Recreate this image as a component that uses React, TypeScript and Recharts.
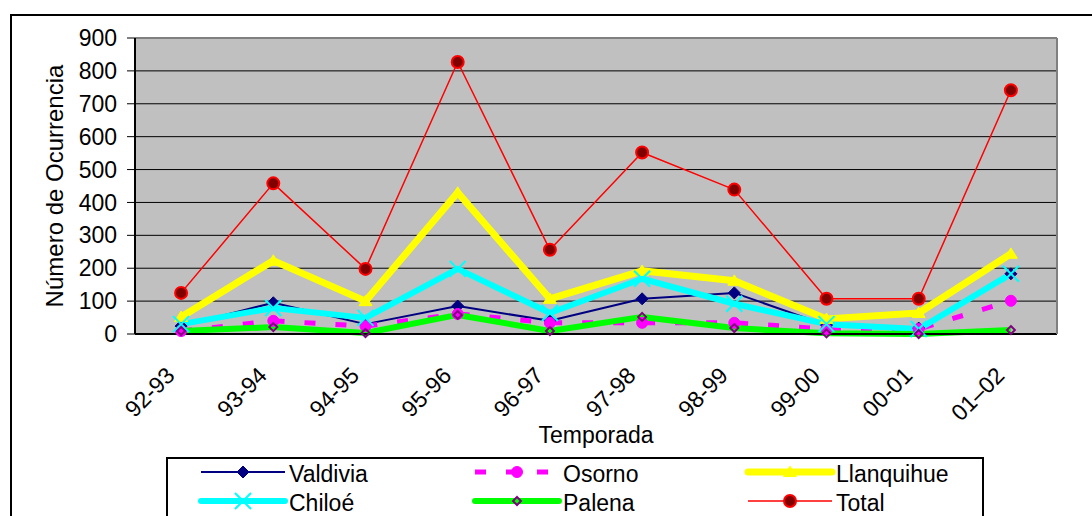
import { CartesianGrid, Legend, Line, LineChart, XAxis, YAxis } from "recharts";

// temporadas
const seasons = ["92-93", "93-94", "94-95", "95-96", "96-97", "97-98", "98-99", "99-00", "00-01", "01–02"];

// número de ocurrencias por provincia
const valdivia = [24, 95, 30, 85, 40, 107, 125, 27, 18, 183];
const osorno = [9, 40, 24, 61, 34, 34, 34, 15, 15, 101];
const llanquihue = [52, 223, 100, 430, 107, 192, 162, 46, 64, 244];
const chiloe = [30, 79, 49, 198, 64, 168, 92, 30, 15, 183];
const palena = [9, 21, 3, 58, 9, 52, 18, 2, 0, 12];
const total = [125, 458, 198, 827, 256, 552, 439, 107, 107, 741];

const yTicks = [0, 100, 200, 300, 400, 500, 600, 700, 800, 900];
const boundaryTicks = [0, 1, 2, 3, 4, 5, 6, 7, 8, 9, 10];

const data = seasons.map((season, i) => ({
  season,
  valdivia: valdivia[i],
  osorno: osorno[i],
  llanquihue: llanquihue[i],
  chiloe: chiloe[i],
  palena: palena[i],
  total: total[i],
}));

const FONT = "'Liberation Sans', Arial, sans-serif";

type SeriesStyle = {
  name: string;
  stroke: string;
  width: number;
  dash?: string;
  marker: "diamond" | "circle" | "triangle" | "x";
  mfill: string;
  mstroke: string;
  msw: number;
  size: number;
};

const STYLES: Record<string, SeriesStyle> = {
  valdivia: { name: "Valdivia", stroke: "#000080", width: 2, marker: "diamond", mfill: "#000080", mstroke: "#000080", msw: 1, size: 6 },
  osorno: { name: "Osorno", stroke: "#FF00FF", width: 5, dash: "11 20", marker: "circle", mfill: "#FF00FF", mstroke: "#FF00FF", msw: 1, size: 5.5 },
  llanquihue: { name: "Llanquihue", stroke: "#FFFF00", width: 7, marker: "triangle", mfill: "#FFFF00", mstroke: "#FFFF00", msw: 1, size: 6.5 },
  chiloe: { name: "Chiloé", stroke: "#00FFFF", width: 6, marker: "x", mfill: "none", mstroke: "#00FFFF", msw: 2, size: 8 },
  palena: { name: "Palena", stroke: "#00FF00", width: 6, marker: "diamond", mfill: "none", mstroke: "#800080", msw: 2, size: 4 },
  total: { name: "Total", stroke: "#FF0000", width: 1.5, marker: "circle", mfill: "#800000", mstroke: "#FF0000", msw: 2, size: 6 },
};

const seriesKeys = ["valdivia", "osorno", "llanquihue", "chiloe", "palena", "total"];

function marker(st: SeriesStyle, cx: number, cy: number, key?: string) {
  const s = st.size;
  switch (st.marker) {
    case "diamond":
      return (
        <path key={key} d={`M${cx} ${cy - s}L${cx + s} ${cy}L${cx} ${cy + s}L${cx - s} ${cy}Z`}
          fill={st.mfill} stroke={st.mstroke} strokeWidth={st.msw} />
      );
    case "circle":
      return <circle key={key} cx={cx} cy={cy} r={s} fill={st.mfill} stroke={st.mstroke} strokeWidth={st.msw} />;
    case "triangle":
      return (
        <path key={key} d={`M${cx} ${cy - s * 0.9}L${cx + s} ${cy + s * 0.7}L${cx - s} ${cy + s * 0.7}Z`}
          fill={st.mfill} stroke={st.mstroke} strokeWidth={st.msw} />
      );
    default:
      return (
        <path key={key} d={`M${cx - s} ${cy - s}L${cx + s} ${cy + s}M${cx - s} ${cy + s}L${cx + s} ${cy - s}`}
          fill="none" stroke={st.mstroke} strokeWidth={st.msw} />
      );
  }
}

const SeasonTick = (props: any) => {
  const { x, y, payload } = props;
  const bx = x - 5;
  const by = y + 43;
  return (
    <text x={bx} y={by} transform={`rotate(-45 ${bx} ${by})`} textAnchor="end"
      fontFamily={FONT} fontSize={23} fill="#000">
      {payload.value}
    </text>
  );
};

const LegendBox = (props: any) => {
  // keep the series order (Recharts sorts the payload by name)
  const items = [...(props.payload || [])].sort(
    (a: any, b: any) => seriesKeys.indexOf(a.dataKey) - seriesKeys.indexOf(b.dataKey)
  );
  const cols = [33, 307, 580];
  const rows = [13, 42];
  return (
    <div style={{ border: "2px solid #000", width: 814, height: 80, background: "#fff" }}>
      <svg width={814} height={80}>
        {items.map((item: any, i: number) => {
          const st = STYLES[item.dataKey];
          const x0 = cols[i % 3];
          const y = rows[Math.floor(i / 3)];
          return (
            <g key={item.dataKey}>
              <line x1={x0} x2={x0 + 84} y1={y} y2={y} stroke={st.stroke} strokeWidth={st.width}
                strokeDasharray={st.dash} strokeLinecap={st.width > 4 && !st.dash ? "round" : "butt"} />
              {marker(st, x0 + 42, y)}
              <text x={x0 + 88} y={y + 10} fontFamily={FONT} fontSize={23} fill="#000">
                {item.value}
              </text>
            </g>
          );
        })}
      </svg>
    </div>
  );
};

export default function App() {
  return (
    <div style={{ position: "relative", width: 1092, height: 516, overflow: "hidden", background: "#fff" }}>
      <style>{"body{margin:0}"}</style>
      <div style={{ position: "absolute", left: 10, top: 14, width: 1100, height: 600, border: "2px solid #000" }} />
      <LineChart width={1092} height={516} data={data} margin={{ top: 37, right: 34, bottom: 73, left: 0 }}>
        <CartesianGrid vertical={false} stroke="#000" strokeWidth={1} fill="#C0C0C0" fillOpacity={1}
          horizontalValues={[100, 200, 300, 400, 500, 600, 700, 800]} />
        <XAxis xAxisId="top" orientation="top" type="number" domain={[0, 10]} allowDataOverflow
          height={1} tick={false} tickLine={false} axisLine={{ stroke: "#808080", strokeWidth: 2 }} />
        <XAxis xAxisId="bounds" type="number" domain={[0, 10]} ticks={boundaryTicks} allowDataOverflow
          height={1} mirror tick={false} tickSize={7} tickLine={{ stroke: "#000" }} axisLine={false} />
        <XAxis dataKey="season" scale="band" height={109} tickSize={0} tickMargin={0} tickLine={false}
          axisLine={{ stroke: "#000", strokeWidth: 2 }} tick={<SeasonTick />} interval={0}
          label={{ value: "Temporada", position: "insideBottom", offset: 0, fontFamily: FONT, fontSize: 23, fill: "#000" }} />
        <YAxis domain={[0, 900]} ticks={yTicks} width={135} tickSize={8} tickMargin={10} interval={0}
          axisLine={{ stroke: "#000", strokeWidth: 2 }} tickLine={{ stroke: "#000" }}
          tick={{ fontFamily: FONT, fontSize: 23, fill: "#000" }}
          label={{ value: "Número de Ocurrencia", angle: -90, position: "center", dx: -13, fontFamily: FONT, fontSize: 24, fill: "#000" }} />
        <YAxis yAxisId="right" orientation="right" domain={[0, 900]} width={1} tick={false} tickLine={false}
          axisLine={{ stroke: "#808080", strokeWidth: 2 }} />
        <Legend layout="horizontal" verticalAlign="middle" align="center" content={<LegendBox />}
          wrapperStyle={{ left: 166, top: 457, width: 818, height: 84 }} />
        {seriesKeys.map((key) => {
          const st = STYLES[key];
          return (
            <Line key={key} type="linear" dataKey={key} name={st.name} stroke={st.stroke} strokeWidth={st.width}
              strokeDasharray={st.dash} strokeLinejoin="round" isAnimationActive={false} activeDot={false}
              dot={(p: any) => marker(st, p.cx, p.cy, `${key}-${p.index}`)} />
          );
        })}
      </LineChart>
    </div>
  );
}
